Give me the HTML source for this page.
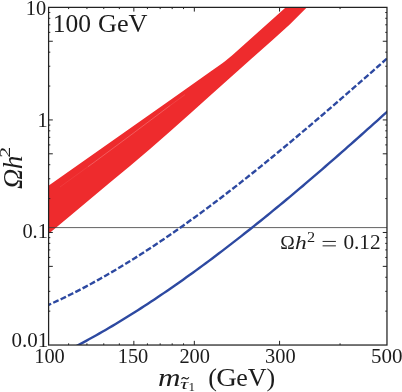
<!DOCTYPE html>
<html><head><meta charset="utf-8"><title>Relic density</title>
<style>
html,body{margin:0;padding:0;background:#fff;}
svg{display:block;will-change:transform;transform:translateZ(0);}
text{font-family:"Liberation Serif",serif;fill:#1c1c1c;}
.i{font-style:italic;}
</style></head><body>
<svg width="402" height="392" viewBox="0 0 402 392">
<rect width="402" height="392" fill="#fff"/>
<defs><clipPath id="c"><rect x="48.6" y="7.38" width="338.37" height="337.65"/></clipPath></defs>
<g clip-path="url(#c)">
<path d="M46 187.35 L48.8 185.4 L170 100.2 L212 70.4 L222 63.6 L225 61.3 L228 58.8 L232 55.5 L285.9 7.3 L296.8 -2.5 L316.7 -2.5 L307 7.25 L290 24.3 L272.6 40 L250 59.9 L210 95.7 L190 113.7 L170 131.5 L150 148.9 L130 165.9 L110 182.6 L90 199.3 L70 216.0 L48.7 233.7 L46 235.2 Z" fill="#ee2b2d"/>
<path d="M60 187 L88 166.7" stroke="#fff" stroke-opacity="0.12" stroke-width="0.6" fill="none"/>
<path d="M88 166.7 L95.1 161.6 L134.1 132.6 L170 105.6" stroke="#fff" stroke-opacity="0.38" stroke-width="0.6" fill="none"/>
<path d="M170 105.6 L185 94.6" stroke="#fff" stroke-opacity="0.18" stroke-width="0.6" fill="none"/>
<path d="M48.6 227.6 H386.97" stroke="#3a3a3a" stroke-width="0.8" fill="none"/>
<path d="M70.0 349.38 L73.23 347.71 L76.46 346.03 L79.7 344.32 L82.93 342.59 L86.16 340.84 L89.39 339.07 L92.63 337.28 L95.86 335.47 L99.09 333.65 L102.32 331.8 L105.56 329.93 L108.79 328.04 L112.02 326.13 L115.25 324.2 L118.48 322.26 L121.72 320.29 L124.95 318.31 L128.18 316.31 L131.41 314.29 L134.65 312.25 L137.88 310.2 L141.11 308.12 L144.34 306.03 L147.58 303.92 L150.81 301.8 L154.04 299.66 L157.27 297.5 L160.51 295.32 L163.74 293.13 L166.97 290.93 L170.2 288.7 L173.43 286.46 L176.67 284.21 L179.9 281.94 L183.13 279.65 L186.36 277.35 L189.6 275.04 L192.83 272.71 L196.06 270.36 L199.29 268.0 L202.53 265.63 L205.76 263.24 L208.99 260.84 L212.22 258.42 L215.45 256.0 L218.69 253.55 L221.92 251.1 L225.15 248.63 L228.38 246.15 L231.62 243.66 L234.85 241.15 L238.08 238.64 L241.31 236.11 L244.55 233.56 L247.78 231.01 L251.01 228.45 L254.24 225.87 L257.47 223.28 L260.71 220.69 L263.94 218.08 L267.17 215.46 L270.4 212.83 L273.64 210.19 L276.87 207.54 L280.1 204.88 L283.33 202.21 L286.57 199.53 L289.8 196.85 L293.03 194.14 L296.26 191.42 L299.49 188.69 L302.73 185.96 L305.96 183.2 L309.19 180.44 L312.42 177.68 L315.66 174.9 L318.89 172.11 L322.12 169.32 L325.35 166.52 L328.59 163.7 L331.82 160.89 L335.05 158.06 L338.28 155.24 L341.52 152.4 L344.75 149.55 L347.98 146.7 L351.21 143.84 L354.44 140.98 L357.68 138.11 L360.91 135.23 L364.14 132.35 L367.37 129.46 L370.61 126.57 L373.84 123.68 L377.07 120.78 L380.3 117.87 L383.54 114.96 L386.77 112.04 L390.0 109.13" stroke="#2d49a1" stroke-width="2.4" fill="none" stroke-linejoin="round"/>
<path d="M48.6 304.87 L51.47 303.58 L54.34 302.26 L57.21 300.93 L60.08 299.58 L62.94 298.21 L65.81 296.82 L68.68 295.42 L71.55 293.99 L74.42 292.54 L77.29 291.08 L80.16 289.6 L83.03 288.1 L85.9 286.58 L88.76 285.05 L91.63 283.49 L94.5 281.92 L97.37 280.34 L100.24 278.73 L103.11 277.11 L105.98 275.47 L108.85 273.82 L111.72 272.15 L114.58 270.46 L117.45 268.75 L120.32 267.03 L123.19 265.3 L126.06 263.55 L128.93 261.78 L131.8 260.0 L134.67 258.2 L137.54 256.39 L140.41 254.56 L143.27 252.71 L146.14 250.86 L149.01 248.99 L151.88 247.1 L154.75 245.2 L157.62 243.28 L160.49 241.36 L163.36 239.41 L166.23 237.46 L169.09 235.49 L171.96 233.51 L174.83 231.51 L177.7 229.5 L180.57 227.48 L183.44 225.45 L186.31 223.4 L189.18 221.35 L192.05 219.27 L194.91 217.19 L197.78 215.1 L200.65 212.99 L203.52 210.87 L206.39 208.74 L209.26 206.6 L212.13 204.45 L215.0 202.29 L217.87 200.12 L220.73 197.93 L223.6 195.74 L226.47 193.53 L229.34 191.32 L232.21 189.1 L235.08 186.86 L237.95 184.62 L240.82 182.36 L243.69 180.1 L246.55 177.83 L249.42 175.55 L252.29 173.26 L255.16 170.96 L258.03 168.65 L260.9 166.33 L263.77 164.01 L266.64 161.68 L269.51 159.34 L272.37 156.99 L275.24 154.63 L278.11 152.27 L280.98 149.9 L283.85 147.52 L286.72 145.13 L289.59 142.74 L292.46 140.34 L295.33 137.94 L298.19 135.53 L301.06 133.11 L303.93 130.68 L306.8 128.25 L309.67 125.82 L312.54 123.38 L315.41 120.93 L318.28 118.48 L321.15 116.02 L324.02 113.55 L326.88 111.09 L329.75 108.61 L332.62 106.14 L335.49 103.66 L338.36 101.17 L341.23 98.68 L344.1 96.19 L346.97 93.69 L349.84 91.19 L352.7 88.68 L355.57 86.17 L358.44 83.66 L361.31 81.15 L364.18 78.63 L367.05 76.11 L369.92 73.59 L372.79 71.06 L375.66 68.54 L378.52 66.01 L381.39 63.48 L384.26 60.94 L387.13 58.41 L390.0 55.87" stroke="#2d49a1" stroke-width="2.4" fill="none" stroke-dasharray="5.9 2.28" stroke-dashoffset="3.1" stroke-linejoin="round"/>
</g>
<path d="M133.85 345.03 v-4.2 M133.85 7.38 v4.2 M194.33 345.03 v-4.2 M194.33 7.38 v4.2 M279.57 345.03 v-4.2 M279.57 7.38 v4.2 M68.64 345.03 v-1.7 M68.64 7.38 v1.7 M86.93 345.03 v-1.7 M86.93 7.38 v1.7 M103.76 345.03 v-1.7 M103.76 7.38 v1.7 M119.34 345.03 v-1.7 M119.34 7.38 v1.7 M147.41 345.03 v-1.7 M147.41 7.38 v1.7 M160.16 345.03 v-1.7 M160.16 7.38 v1.7 M172.18 345.03 v-1.7 M172.18 7.38 v1.7 M183.54 345.03 v-1.7 M183.54 7.38 v1.7 M340.06 345.03 v-1.7 M340.06 7.38 v1.7 M48.6 311.15 h1.7 M386.97 311.15 h-1.7 M48.6 291.33 h1.7 M386.97 291.33 h-1.7 M48.6 277.27 h1.7 M386.97 277.27 h-1.7 M48.6 266.36 h4.2 M386.97 266.36 h-4.2 M48.6 257.45 h1.7 M386.97 257.45 h-1.7 M48.6 249.91 h1.7 M386.97 249.91 h-1.7 M48.6 243.39 h1.7 M386.97 243.39 h-1.7 M48.6 237.63 h1.7 M386.97 237.63 h-1.7 M48.6 232.48 h4.2 M386.97 232.48 h-4.2 M48.6 198.60 h1.7 M386.97 198.60 h-1.7 M48.6 178.78 h1.7 M386.97 178.78 h-1.7 M48.6 164.72 h1.7 M386.97 164.72 h-1.7 M48.6 153.81 h4.2 M386.97 153.81 h-4.2 M48.6 144.90 h1.7 M386.97 144.90 h-1.7 M48.6 137.36 h1.7 M386.97 137.36 h-1.7 M48.6 130.84 h1.7 M386.97 130.84 h-1.7 M48.6 125.08 h1.7 M386.97 125.08 h-1.7 M48.6 119.93 h4.2 M386.97 119.93 h-4.2 M48.6 86.05 h1.7 M386.97 86.05 h-1.7 M48.6 66.23 h1.7 M386.97 66.23 h-1.7 M48.6 52.17 h1.7 M386.97 52.17 h-1.7 M48.6 41.26 h4.2 M386.97 41.26 h-4.2 M48.6 32.35 h1.7 M386.97 32.35 h-1.7 M48.6 24.81 h1.7 M386.97 24.81 h-1.7 M48.6 18.29 h1.7 M386.97 18.29 h-1.7 M48.6 12.53 h1.7 M386.97 12.53 h-1.7" stroke="#222" stroke-width="1" fill="none"/>
<rect x="48.6" y="7.38" width="338.37" height="337.65" fill="none" stroke="#222" stroke-width="1.25"/>
<!-- y tick labels -->
<g font-size="20.4" text-anchor="end">
<text x="46.2" y="14.55">10</text>
<text x="47.75" y="126.95">1</text>
<text x="47.9" y="237.7">0.1</text>
<text transform="translate(48.2 346.5) scale(1.03 1)">0.01</text>
</g>
<!-- x tick labels -->
<g font-size="20.4" text-anchor="middle">
<text x="49.5" y="363.3">100</text>
<text x="133.0" y="363.2">150</text>
<text x="194.7" y="363.2">200</text>
<text x="280.4" y="363.2">300</text>
<text transform="translate(371.1 363.3) scale(1.03 1)" text-anchor="start">500</text>
</g>
<text x="52.8" y="32" font-size="25.5">100</text>
<text transform="translate(98 32) scale(1.03 1)" font-size="25.5">GeV</text>
<!-- annotation -->
<g font-size="19.5">
<text x="280.2" y="249">&#937;</text>
<text transform="translate(294.9 249) scale(1.2 1)" class="i">h</text>
<text transform="translate(306.9 241.6) scale(1.05 1)" font-size="15.5">2</text>
<path d="M322.6 241.45 H335.9 M322.6 245.85 H335.9" stroke="#1c1c1c" stroke-width="0.95" fill="none"/>
<text transform="translate(343.4 249.1) scale(1.05 1)" font-size="20.3">0.12</text>
</g>
<!-- y axis label -->
<text transform="translate(22.4 188.9) rotate(-90) scale(1.0 1)" font-size="28" class="i">&#937;</text>
<text transform="translate(22.4 169.2) rotate(-90) scale(1.03 1)" font-size="26.5" class="i">h</text>
<text transform="translate(9.9 157.8) rotate(-90) scale(1.45 1)" font-size="15">2</text>
<!-- x axis label -->
<text transform="translate(157.9 385.5) scale(1.2 1)" font-size="26" class="i">m</text>
<text transform="translate(180.1 388.9) scale(1.5 1)" font-size="15.5" class="i">&#964;</text>
<path d="M181.5 379.3 C182.7 377.2 184.1 377.2 185.3 378.2 S187.7 379.2 188.9 377.2" stroke="#1c1c1c" stroke-width="1.15" fill="none"/>
<text x="188.6" y="391.4" font-size="13">1</text>
<text x="208.2" y="385.5" font-size="26">(</text>
<text transform="translate(216.3 385.5) scale(1.1 1)" font-size="26">G</text>
<text x="236.3" y="385.5" font-size="26">eV)</text>
</svg>
</body></html>
